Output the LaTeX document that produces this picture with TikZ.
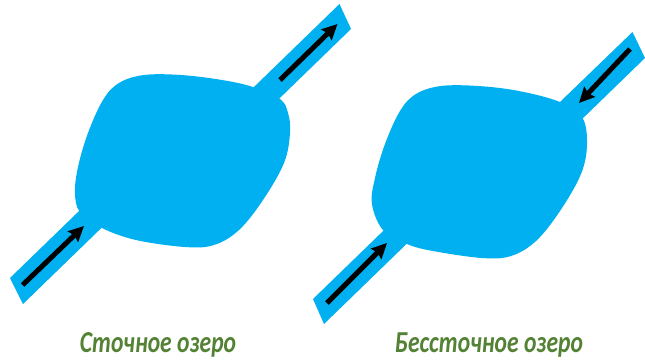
\documentclass[tikz,border=0pt]{standalone}
\usepackage{fontspec}
\setmainfont{Carlito}
\usetikzlibrary{arrows.meta}
\definecolor{lake}{HTML}{00B0F0}
\definecolor{lbl}{HTML}{548235}
\begin{document}
\begin{tikzpicture}[x=0.03cm,y=-0.03cm,
  water/.style={fill=lake},
  flow/.style={line width=0.15cm,-{Stealth[length=0.46cm,width=0.44cm,inset=0.06cm]}},
  caption/.style={font=\bfseries\itshape\fontsize{26}{30}\selectfont,text=lbl,anchor=base,inner sep=0pt,xscale=0.775}]
\useasboundingbox (0,0) rectangle (645,359);

% left lake (drained lake)
\fill[water] plot[smooth cycle,tension=0.6] coordinates {
  (253,87) (222,80) (181,75) (144,75) (119,83) (103,100) (88,133) (78,167)
  (75,193) (80,212) (102,228) (136,240) (185,247) (214,245) (239,230)
  (263,200) (284,163) (290,133) (288,113) (280,99)};
\fill[water] (10,278) -- (23,304) -- (123,207) -- (110,181) -- cycle;
\fill[water] (339.5,4) -- (351,29) -- (251,126) -- (239.5,101) -- cycle;

% right lake (closed lake)
\fill[water] plot[smooth cycle,tension=0.6] coordinates {
  (560,102) (519,91) (478,86) (441,86) (416,94) (400,111) (385,144) (375,178)
  (372,204) (383,230) (407,244) (433,251) (482,258) (511,256) (536,241)
  (560,211) (581,174) (587,144) (582,117)};
\fill[water] (313,299) -- (324,324) -- (424,227) -- (413,202) -- cycle;
\fill[water] (632.5,32) -- (645,58) -- (545,155) -- (532,129) -- cycle;

% flow arrows
\coordinate (a1s) at (22.6,285);  \coordinate (a1e) at (84,226);
\coordinate (a2s) at (280,80);    \coordinate (a2e) at (337.5,24);
\coordinate (a3s) at (327,303);   \coordinate (a3e) at (387,243);
\coordinate (a4s) at (630,49);    \coordinate (a4e) at (579,103);
\draw[flow] (a1s) -- (a1e);
\draw[flow] (a2s) -- (a2e);
\draw[flow] (a3s) -- (a3e);
\draw[flow] (a4s) -- (a4e);

% captions
\node[caption] (cap1) at (158,352) {Сточное озеро};
\node[caption] (cap2) at (489,352) {Бессточное озеро};
\end{tikzpicture}
\end{document}
